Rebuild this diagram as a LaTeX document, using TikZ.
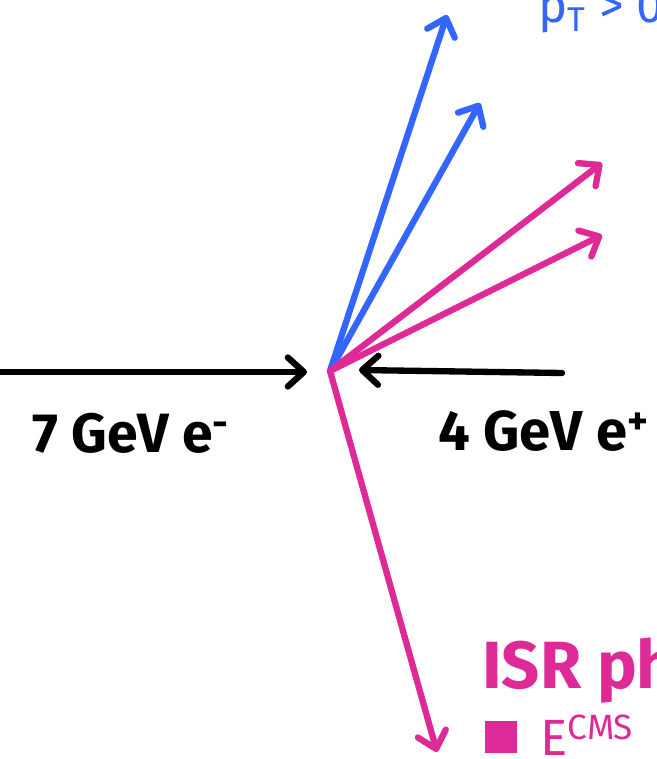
\documentclass[tikz,border=0pt]{standalone}
\usepackage{fontspec}
\setmainfont{Fira Sans}
\usetikzlibrary{arrows.meta}

\definecolor{trkblue}{RGB}{51,102,255}
\definecolor{isrpink}{RGB}{221,42,150}

\begin{document}
\begin{tikzpicture}[
  x=0.02cm, y=-0.02cm,
  >={Straight Barb[length=3.2mm,width=5.8mm,round]},
  beam/.style={->, line width=3.6pt, line cap=round, black},
  track/.style={->, line width=3.6pt, line cap=round, trkblue},
  isr/.style={->, line width=3.6pt, line cap=round, isrpink},
  lbl/.style={inner sep=0pt, anchor=base west}
]
  \useasboundingbox (0,0) rectangle (656,759);
  \clip (0,0) rectangle (656,759);

  % interaction point and arrow ends
  \coordinate (ip) at (330,371);
  \coordinate (eminus) at (-10,372);
  \coordinate (eminusend) at (307,372);
  \coordinate (eplus) at (562,373);
  \coordinate (eplusend) at (359,370);
  \coordinate (trkA) at (447,15);
  \coordinate (trkB) at (480,103);
  \coordinate (isrA) at (602,163);
  \coordinate (isrB) at (602,235);
  \coordinate (isrC) at (437,752);

  % beams
  \draw[beam] (eminus) -- (eminusend);
  \draw[beam] (eplus) -- (eplusend);

  % tracks
  \draw[track] (ip) -- (trkA);
  \draw[track] (ip) -- (trkB);
  \draw[isr] (ip) -- (isrA);
  \draw[isr] (ip) -- (isrB);
  \draw[isr] (ip) -- (isrC);

  % labels
  \node[lbl] (elbl) at (32,452) {\fontsize{31.5}{36}\selectfont\bfseries 7 GeV e\textsuperscript{-}};
  \node[lbl] (plbl) at (438,450) {\fontsize{32}{36}\selectfont\bfseries 4 GeV e\textsuperscript{+}};
  \node[lbl, text=trkblue] (ptlbl) at (538,23) {\fontsize{28}{30}\selectfont p\textsubscript{T} > 0};
  \node[lbl, text=isrpink] (isrlbl) at (482,688) {\fontsize{38}{42}\selectfont\bfseries ISR ph};
  \node[fill=isrpink, minimum size=0.64cm, inner sep=0pt, anchor=north west] (bullet) at (485,721) {};
  \node[lbl, text=isrpink] (ecms) at (540,755) {\fontsize{29}{32}\selectfont E\raisebox{0.32cm}{\fontsize{20}{22}\selectfont CMS}};
\end{tikzpicture}
\end{document}
